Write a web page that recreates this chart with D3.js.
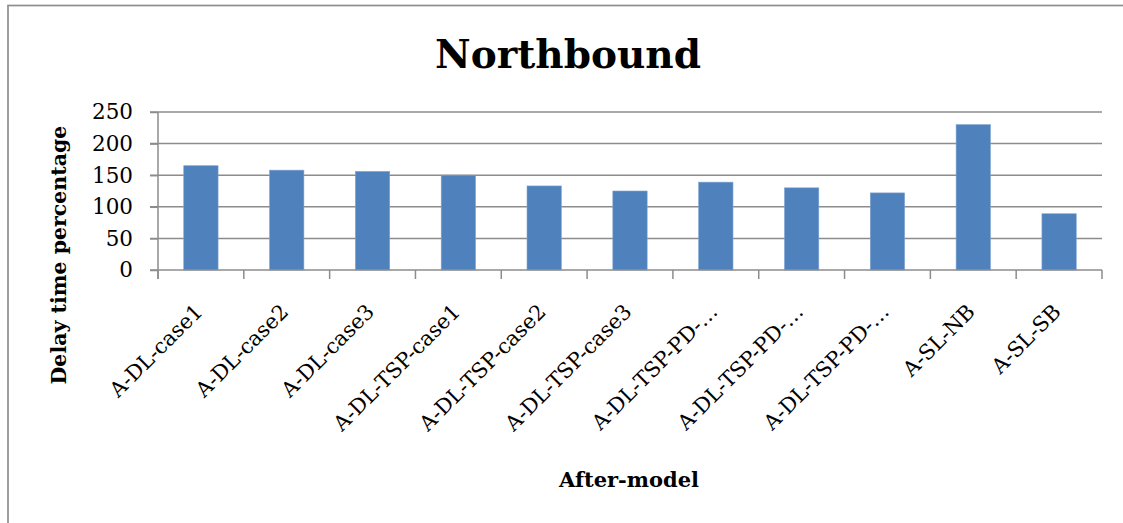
<!DOCTYPE html>
<html>
<head>
<meta charset="utf-8">
<script src="https://cdn.jsdelivr.net/npm/d3@7"></script>
<style>
html,body{margin:0;padding:0;background:#fff;}
svg{display:block;}
</style>
</head>
<body>
<svg id="chart" width="1123" height="523"></svg>
<script>
const categories = ["A-DL-case1","A-DL-case2","A-DL-case3","A-DL-TSP-case1","A-DL-TSP-case2","A-DL-TSP-case3","A-DL-TSP-PD-…","A-DL-TSP-PD-…","A-DL-TSP-PD-…","A-SL-NB","A-SL-SB"];
const values = [165,158,156,150,133,125,139,130,122,230,89];
const yTicks = [0,50,100,150,200,250];
const title = "Northbound";
const xTitle = "After-model";
const yTitle = "Delay time percentage";

(function(){
const svg = d3.select("#chart");
const font = "'DejaVu Serif', serif";
const grey = "#8c8c8c";

// outer border (extends off the right/bottom edge)
svg.append("rect").attr("x",8).attr("y",5.5).attr("width",1300).attr("height",700)
  .attr("fill","#fff").attr("stroke","#8e8e8e").attr("stroke-width",1.7);

const pL = 158, pR = 1102, pT = 112, pB = 270;
const x = d3.scaleBand().domain(d3.range(categories.length)).range([pL,pR]).paddingInner(0).paddingOuter(0);
const y = d3.scaleLinear().domain([0,250]).range([pB,pT]);

// gridlines
svg.append("g").selectAll("line").data(yTicks.filter(d=>d>0)).join("line")
  .attr("x1",pL-8).attr("x2",pR).attr("y1",d=>y(d)).attr("y2",d=>y(d))
  .attr("stroke",grey).attr("stroke-width",1.5);

// bars
const bw = x.bandwidth()*0.4;
svg.append("g").selectAll("rect").data(values).join("rect")
  .attr("x",(d,i)=>x(i)+x.bandwidth()/2-bw/2)
  .attr("y",d=>y(d))
  .attr("width",bw)
  .attr("height",d=>pB-y(d))
  .attr("fill","#4f81bd")
  .attr("stroke","#7fa3d0").attr("stroke-width",0.6);

// y axis
const yAxis = d3.axisLeft(y).tickValues(yTicks).tickSize(8).tickPadding(17);
const gy = svg.append("g").attr("transform",`translate(${pL},0)`).call(yAxis);
gy.select(".domain").remove();
gy.selectAll(".tick line").attr("stroke",grey).attr("stroke-width",1.5);
gy.selectAll(".tick text").attr("font-family",font).attr("font-size",21.5).attr("fill","#000");
svg.append("line").attr("x1",pL).attr("x2",pL).attr("y1",pT).attr("y2",pB+9)
  .attr("stroke",grey).attr("stroke-width",1.5);

// x axis
svg.append("line").attr("x1",pL-8).attr("x2",pR).attr("y1",pB).attr("y2",pB)
  .attr("stroke",grey).attr("stroke-width",1.7);
const bounds = d3.range(categories.length+1).map(i=> i<categories.length ? x(i) : pR);
svg.append("g").selectAll("line").data(bounds).join("line")
  .attr("x1",d=>d).attr("x2",d=>d).attr("y1",pB).attr("y2",pB+9)
  .attr("stroke",grey).attr("stroke-width",1.5);

svg.append("g").selectAll("text").data(categories).join("text")
  .attr("transform",(d,i)=>`translate(${x(i)+x.bandwidth()/2+3},${pB+43}) rotate(-45)`)
  .attr("text-anchor","end")
  .attr("font-family",font).attr("font-size",21).attr("fill","#000")
  .text(d=>d);

// titles
svg.append("text").attr("x",568).attr("y",68).attr("text-anchor","middle")
  .attr("font-family",font).attr("font-weight","bold").attr("font-size",39).text(title);
svg.append("text").attr("x",629).attr("y",487).attr("text-anchor","middle")
  .attr("font-family",font).attr("font-weight","bold").attr("font-size",21).text(xTitle);
svg.append("text").attr("transform","translate(66,255) rotate(-90)").attr("text-anchor","middle")
  .attr("font-family",font).attr("font-weight","bold").attr("font-size",20.5).text(yTitle);
})();
</script>
</body>
</html>
